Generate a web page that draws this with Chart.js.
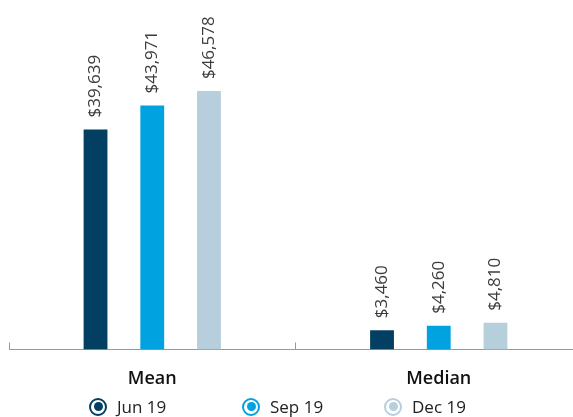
<!DOCTYPE html>
<html>
<head>
<meta charset="utf-8">
<script src="https://cdn.jsdelivr.net/npm/chart.js@4/dist/chart.umd.min.js"></script>
<style>
  html, body { margin: 0; padding: 0; background: #fff; overflow: hidden; }
  #wrap { position: relative; width: 582px; height: 417px; }
  #legend { position: absolute; left: 89px; top: 395px; display: flex; align-items: center;
            font-family: "Open Sans"; font-size: 17px; color: #222; }
  #legend .item { display: flex; align-items: center; }
  #legend .dot { width: 14px; height: 14px; border-radius: 50%; border: 2px solid; box-sizing: content-box;
                 margin-right: 10px; position: relative; }
  #legend .dot::after { content: ''; position: absolute; left: 2.5px; top: 2.5px; width: 9px; height: 9px;
                        border-radius: 50%; background: currentColor; }
</style>
</head>
<body>
<div id="wrap"><canvas id="barChart"></canvas><div id="legend"></div></div>
<script>
// Data
const categories = ['Mean', 'Median'];
const seriesNames = ['Jun 19', 'Sep 19', 'Dec 19'];
const jun19 = [39639, 3460];
const sep19 = [43971, 4260];
const dec19 = [46578, 4810];
const seriesColors = ['#023f62', '#00a3e0', '#b7cfdc'];
// lebar tiap item legend (penanda + teks + jarak)
const legendItemWidths = [153, 142, 100];

// label nilai diputar di atas batang
const valueLabels = {
    id: 'valueLabels',
    afterDatasetsDraw(chart) {
        const ctx = chart.ctx;
        ctx.save();
        ctx.font = '400 17px "Open Sans"';
        ctx.fillStyle = '#3c3c3c';
        ctx.textAlign = 'left';
        ctx.textBaseline = 'middle';
        chart.data.datasets.forEach((ds, i) => {
            const meta = chart.getDatasetMeta(i);
            meta.data.forEach((bar, j) => {
                ctx.save();
                ctx.translate(bar.x, bar.y - 12);
                ctx.rotate(-Math.PI / 2);
                ctx.fillText('$' + ds.data[j].toLocaleString('en-US'), 0, 0);
                ctx.restore();
            });
        });
        ctx.restore();
    }
};

const datasets = [jun19, sep19, dec19].map((vals, i) => ({
    label: seriesNames[i],
    data: vals,
    backgroundColor: seriesColors[i],
    categoryPercentage: 0.594,
    barPercentage: 0.42
}));

const chart = new Chart(document.getElementById('barChart').getContext('2d'), {
    type: 'bar',
    data: { labels: categories, datasets: datasets },
    options: {
        responsive: true,
        maintainAspectRatio: false,
        animation: false,
        layout: { padding: { left: 9, right: 0, top: 0, bottom: 1 } },
        scales: {
            y: {
                display: false,
                min: 0,
                max: 63000
            },
            x: {
                grid: {
                    display: true,
                    drawOnChartArea: false,
                    offset: true,
                    tickLength: -7,
                    color: '#9a9a9a'
                },
                border: { display: true, color: '#9a9a9a', width: 1 },
                ticks: {
                    color: '#111',
                    padding: 26,
                    font: { family: '"Open Sans"', size: 18, weight: '600' }
                }
            }
        },
        plugins: {
            legend: { display: false },
            tooltip: { enabled: false }
        }
    },
    plugins: [valueLabels]
});

// legend HTML dari dataset chart
const legendEl = document.getElementById('legend');
chart.data.datasets.forEach((ds, i) => {
    const item = document.createElement('div');
    item.className = 'item';
    item.style.width = legendItemWidths[i] + 'px';
    const dot = document.createElement('span');
    dot.className = 'dot';
    dot.style.color = ds.backgroundColor;
    dot.style.borderColor = ds.backgroundColor;
    const txt = document.createElement('span');
    txt.textContent = ds.label;
    item.appendChild(dot);
    item.appendChild(txt);
    legendEl.appendChild(item);
});
</script>
</body>
</html>
